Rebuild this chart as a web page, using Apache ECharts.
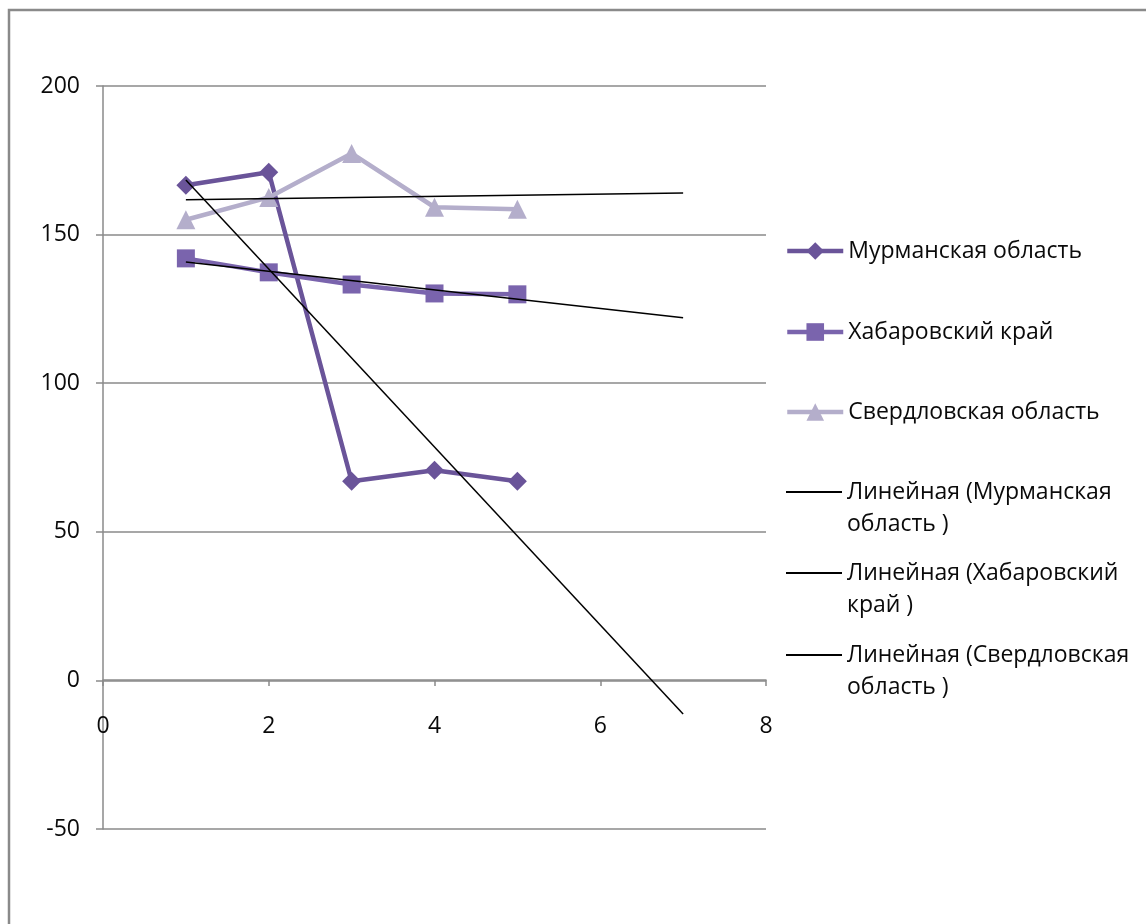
<!DOCTYPE html>
<html>
<head>
<meta charset="utf-8">
<script src="https://cdn.jsdelivr.net/npm/echarts@6/dist/echarts.min.js"></script>
<style>
  html, body { margin: 0; padding: 0; background: #ffffff; }
  #chart { width: 1146px; height: 924px; }
</style>
</head>
<body>
<div id="chart"></div>
<script>
// Периоды наблюдения (ось X)
const periods = [1, 2, 3, 4, 5];

// Значения по регионам
const murmansk = [166.6, 171.0, 67.0, 70.7, 67.0];
const khabarovsk = [142.0, 137.3, 133.2, 130.2, 129.9];
const sverdlovsk = [155.0, 162.5, 177.3, 159.2, 158.5];

const seriesNames = ['Мурманская область', 'Хабаровский край', 'Свердловская область'];
const trendNames = [
  'Линейная (Мурманская\nобласть )',
  'Линейная (Хабаровский\nкрай )',
  'Линейная (Свердловская\nобласть )'
];

// Линия тренда строится до периода 7 (прогноз вперёд на 2 периода)
const trendEnd = 7;

const xTicks = [0, 2, 4, 6, 8];
const yTicks = [-50, 0, 50, 100, 150, 200];

// Линейная регрессия методом наименьших квадратов
function linearTrend(xs, ys, x0, x1) {
  const n = xs.length;
  const mx = xs.reduce((a, b) => a + b, 0) / n;
  const my = ys.reduce((a, b) => a + b, 0) / n;
  let sxy = 0, sxx = 0;
  for (let i = 0; i < n; i++) {
    sxy += (xs[i] - mx) * (ys[i] - my);
    sxx += (xs[i] - mx) * (xs[i] - mx);
  }
  const k = sxy / sxx;
  const b = my - k * mx;
  return [[x0, k * x0 + b], [x1, k * x1 + b]];
}

const pairs = vals => periods.map((p, i) => [p, vals[i]]);

const FONT = '"Open Sans", "Noto Sans", sans-serif';
const FONT_SIZE = 23;
const colors = ['#6a5499', '#7a64ad', '#b4aecb'];
const symbols = ['diamond', 'rect', 'triangle'];
const symbolSizes = [19, 18, 19];
const values = [murmansk, khabarovsk, sverdlovsk];

const series = [];
values.forEach((v, i) => {
  series.push({
    name: seriesNames[i],
    type: 'line',
    data: pairs(v),
    symbol: symbols[i],
    symbolSize: symbolSizes[i],
    showAllSymbol: true,
    lineStyle: { color: colors[i], width: 4.5 },
    itemStyle: { color: colors[i] },
    z: 2,
    animation: false
  });
});
values.forEach((v, i) => {
  series.push({
    name: trendNames[i],
    type: 'line',
    data: linearTrend(periods, v, periods[0], trendEnd),
    symbol: 'none',
    lineStyle: { color: '#000000', width: 1.5 },
    itemStyle: { color: '#000000' },
    z: 5,
    animation: false
  });
});

// Отдельная легенда для каждого элемента, чтобы выровнять их по вертикали
const legendTops = [251, 332, 412, 492, 573, 655];
const legendNames = seriesNames.concat(trendNames);
const LINE_H = 32;
const legends = legendNames.map((name, i) => {
  const multi = name.indexOf('\n') >= 0;
  return {
    data: [name],
    left: 785,
    top: legendTops[i] - (multi ? LINE_H * 1.5 : LINE_H / 2),
    padding: 0,
    itemWidth: 56,
    itemHeight: multi ? 14 : 22,
    itemGap: 0,
    selectedMode: false,
    itemStyle: multi ? { opacity: 0 } : {},
    lineStyle: multi ? { width: 2, color: '#000000' } : { width: 4.5 },
    formatter: n => (n.indexOf('\n') >= 0 ? '\n' + n : n),
    textStyle: {
      fontFamily: FONT,
      fontSize: FONT_SIZE,
      color: '#0a0a0a',
      lineHeight: LINE_H,
      padding: [0, 0, 0, 0]
    }
  };
});

const chart = echarts.init(document.getElementById('chart'), null, { renderer: 'canvas' });
chart.setOption({
  backgroundColor: '#ffffff',
  animation: false,
  graphic: [{
    type: 'rect',
    shape: { x: 9, y: 10, width: 1300, height: 1100 },
    style: { fill: 'none', stroke: '#8a8a8a', lineWidth: 2.5 },
    silent: true,
    z: 100
  }],
  legend: legends,
  grid: { left: 103, right: 380, top: 86, bottom: 95, containLabel: false },
  xAxis: {
    type: 'value',
    min: xTicks[0],
    max: xTicks[xTicks.length - 1],
    interval: 2,
    position: 'bottom',
    // ось проходит через ноль шкалы Y (-50..200 → сдвиг на одно деление)
    offset: -149,
    axisLine: { show: true, onZero: false, lineStyle: { color: '#8a8a8a', width: 1.5 } },
    axisTick: { show: true, length: 6, lineStyle: { color: '#8a8a8a', width: 1.5 } },
    axisLabel: { fontFamily: FONT, fontSize: FONT_SIZE, color: '#0a0a0a', margin: 35 },
    splitLine: { show: false }
  },
  yAxis: {
    type: 'value',
    min: yTicks[0],
    max: yTicks[yTicks.length - 1],
    interval: 50,
    axisLine: { show: true, onZero: false, lineStyle: { color: '#8a8a8a', width: 1.5 } },
    axisTick: { show: true, length: 7, lineStyle: { color: '#8a8a8a', width: 1.5 } },
    axisLabel: { fontFamily: FONT, fontSize: FONT_SIZE, color: '#0a0a0a', margin: 23 },
    splitLine: { show: true, lineStyle: { color: '#8a8a8a', width: 1.5 } }
  },
  series: series
});
</script>
</body>
</html>
